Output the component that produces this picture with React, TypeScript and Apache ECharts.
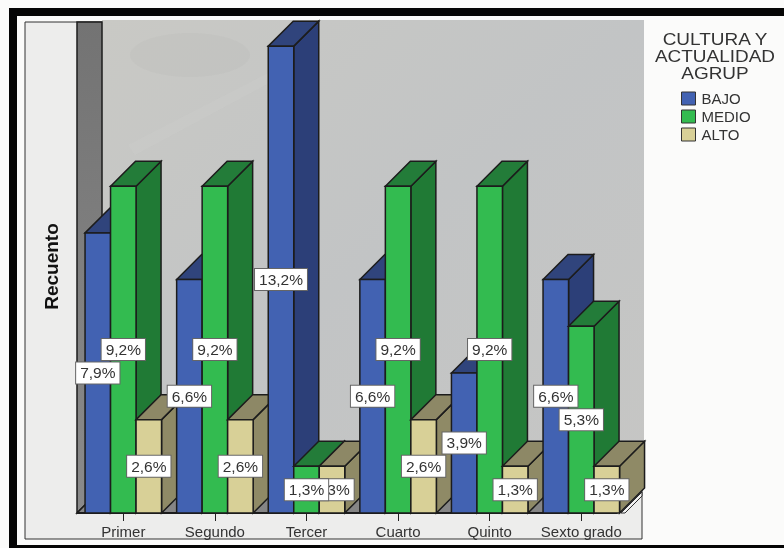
import React, { useEffect, useRef } from "react";
import * as echarts from "echarts";

const categories = ["Primer", "Segundo", "Tercer", "Cuarto", "Quinto", "Sexto grado"];
const bajo = [6, 5, 10, 5, 3, 5];
const medio = [7, 7, 1, 7, 7, 4];
const alto = [2, 2, 1, 2, 1, 1];
const bajoPct = ["7,9%", "6,6%", "13,2%", "6,6%", "3,9%", "6,6%"];
const medioPct = ["9,2%", "9,2%", "1,3%", "9,2%", "9,2%", "5,3%"];
const altoPct = ["2,6%", "2,6%", "1,3%", "2,6%", "1,3%", "1,3%"];
const FONT = "'Liberation Sans', Arial, sans-serif";
const DEPTH = 25;
const OUT = "#1c1c1c";

function bars(name: string, idx: number, values: number[], pct: string[], front: string, side: string, top: string) {
  return {
    type: "custom",
    name,
    silent: true,
    itemStyle: { color: front, borderColor: "#333", borderWidth: 1 },
    encode: { x: 0, y: 1 },
    data: values.map((v, i) => [i, v]),
    renderItem: (_: any, api: any) => {
      const cat = api.value(0);
      const [cx, y] = api.coord([cat, api.value(1)]);
      const [, y0] = api.coord([cat, 0]);
      const band = api.size([1, 0])[0];
      const w = band * 0.2784;
      const x = cx - 1.5 * w + idx * w;
      const z = cat * 10 + idx;
      const lw = 1.5;
      return {
        type: "group",
        children: [
          {
            type: "polygon", z2: z,
            shape: { points: [[x + w, y], [x + w + DEPTH, y - DEPTH], [x + w + DEPTH, y0 - DEPTH], [x + w, y0]] },
            style: { fill: side, stroke: OUT, lineWidth: lw },
          },
          {
            type: "polygon", z2: z,
            shape: { points: [[x, y], [x + DEPTH, y - DEPTH], [x + w + DEPTH, y - DEPTH], [x + w, y]] },
            style: { fill: top, stroke: OUT, lineWidth: lw },
          },
          {
            type: "rect", z2: z + 1,
            shape: { x, y, width: w, height: y0 - y },
            style: { fill: front, stroke: OUT, lineWidth: lw },
          },
          {
            type: "text", z2: 1000 + (2 - idx),
            x: x + w / 2, y: (y + y0) / 2,
            style: {
              text: pct[cat], fill: "#333", font: `15.5px ${FONT}`,
              align: "center", verticalAlign: "middle",
              backgroundColor: "#fff", borderColor: "#666", borderWidth: 1,
              padding: [3, 4, 2, 4],
            },
          },
        ],
      };
    },
  };
}

export default function App() {
  const ref = useRef<HTMLDivElement>(null);
  useEffect(() => {
    document.body.style.margin = "0";
    const chart = echarts.init(ref.current!, null, { renderer: "svg" });
    chart.setOption({
      animation: false,
      backgroundColor: "#fbfbfa",
      grid: { left: 77.5, right: 156.9, top: 20, bottom: 35 },
      xAxis: {
        type: "category", data: categories,
        axisLine: { show: false },
        axisTick: { show: true, alignWithLabel: true, length: 8, lineStyle: { color: "#222", width: 1 } },
        axisLabel: { interval: 0, margin: 11, fontSize: 15, fontFamily: FONT, color: "#333" },
      },
      yAxis: {
        type: "value", min: 0, max: 10.56, show: true,
        name: "Recuento", nameLocation: "middle", nameGap: 17,
        nameTextStyle: { fontSize: 19, fontWeight: "bold", fontFamily: FONT, color: "#111" },
        axisLine: { show: false }, axisTick: { show: false }, axisLabel: { show: false }, splitLine: { show: false },
      },
      legend: {
        orient: "vertical", left: 676, top: 86, itemWidth: 14, itemHeight: 13, itemGap: 3,
        icon: "rect", itemStyle: { borderColor: "#333", borderWidth: 1 },
        textStyle: { fontFamily: FONT, fontSize: 15, color: "#333", padding: [0, 0, 0, 1] },
        selectedMode: false,
        data: ["BAJO", "MEDIO", "ALTO"],
      },
      graphic: [
        { type: "rect", shape: { x: 9, y: 8, width: 775, height: 8 }, style: { fill: "#050505" } },
        { type: "rect", shape: { x: 9, y: 8, width: 8, height: 540 }, style: { fill: "#050505" } },
        { type: "rect", shape: { x: 9, y: 545, width: 775, height: 3 }, style: { fill: "#050505" } },
        { type: "rect", shape: { x: 25, y: 22, width: 617, height: 517 }, style: { fill: "#ededec", stroke: "#333", lineWidth: 1 } },
        {
          type: "rect", shape: { x: 102, y: 20, width: 542, height: 468 },
          style: { fill: new echarts.graphic.LinearGradient(0, 0, 1, 1, [
            { offset: 0, color: "#c9c9c5" }, { offset: 0.5, color: "#c2c4c5" }, { offset: 1, color: "#c6c6c4" },
          ]) },
        },
        { type: "ellipse", shape: { cx: 190, cy: 55, rx: 60, ry: 22 }, style: { fill: "rgba(110,110,110,0.03)" } },
        { type: "polygon", shape: { points: [[128, 145], [270, 72], [275, 80], [135, 155]] }, style: { fill: "rgba(230,230,230,0.08)" } },
        {
          type: "polygon", shape: { points: [[77, 22], [102, 22], [102, 488], [77, 513]] },
          style: { fill: new echarts.graphic.LinearGradient(0, 0, 0, 1, [
            { offset: 0, color: "#737373" }, { offset: 0.5, color: "#7f7f7f" }, { offset: 1, color: "#8a8a8a" },
          ]), stroke: "#1c1c1c", lineWidth: 1.5 },
        },
        {
          type: "polygon", shape: { points: [[77, 513], [102, 488], [642, 488], [617, 513]] },
          style: { fill: "#858585", stroke: "#1c1c1c", lineWidth: 1.5 },
        },
        { type: "polygon", shape: { points: [[621, 513], [642, 492], [642, 496], [625, 513]] }, style: { fill: "#f0f0f0", stroke: "#333", lineWidth: 1 } },
        { type: "line", shape: { x1: 77, y1: 513, x2: 617, y2: 513 }, style: { stroke: "#1c1c1c", lineWidth: 2 } },
        {
          type: "text", x: 715, y: 31, scaleX: 1.15,
          style: {
            text: "CULTURA Y\nACTUALIDAD\nAGRUP", font: `16.5px ${FONT}`, fill: "#333",
            align: "center", verticalAlign: "top", lineHeight: 17,
          },
        },
      ],
      series: [
        bars("BAJO", 0, bajo, bajoPct, "#4262b2", "#2c3f78", "#30447c"),
        bars("MEDIO", 1, medio, medioPct, "#33bb50", "#207a35", "#237c39"),
        bars("ALTO", 2, alto, altoPct, "#d8d097", "#8f8a66", "#8d8866"),
      ],
    });
    return () => chart.dispose();
  }, []);
  return <div ref={ref} style={{ width: 784, height: 548, filter: "blur(0.5px)" }} />;
}
